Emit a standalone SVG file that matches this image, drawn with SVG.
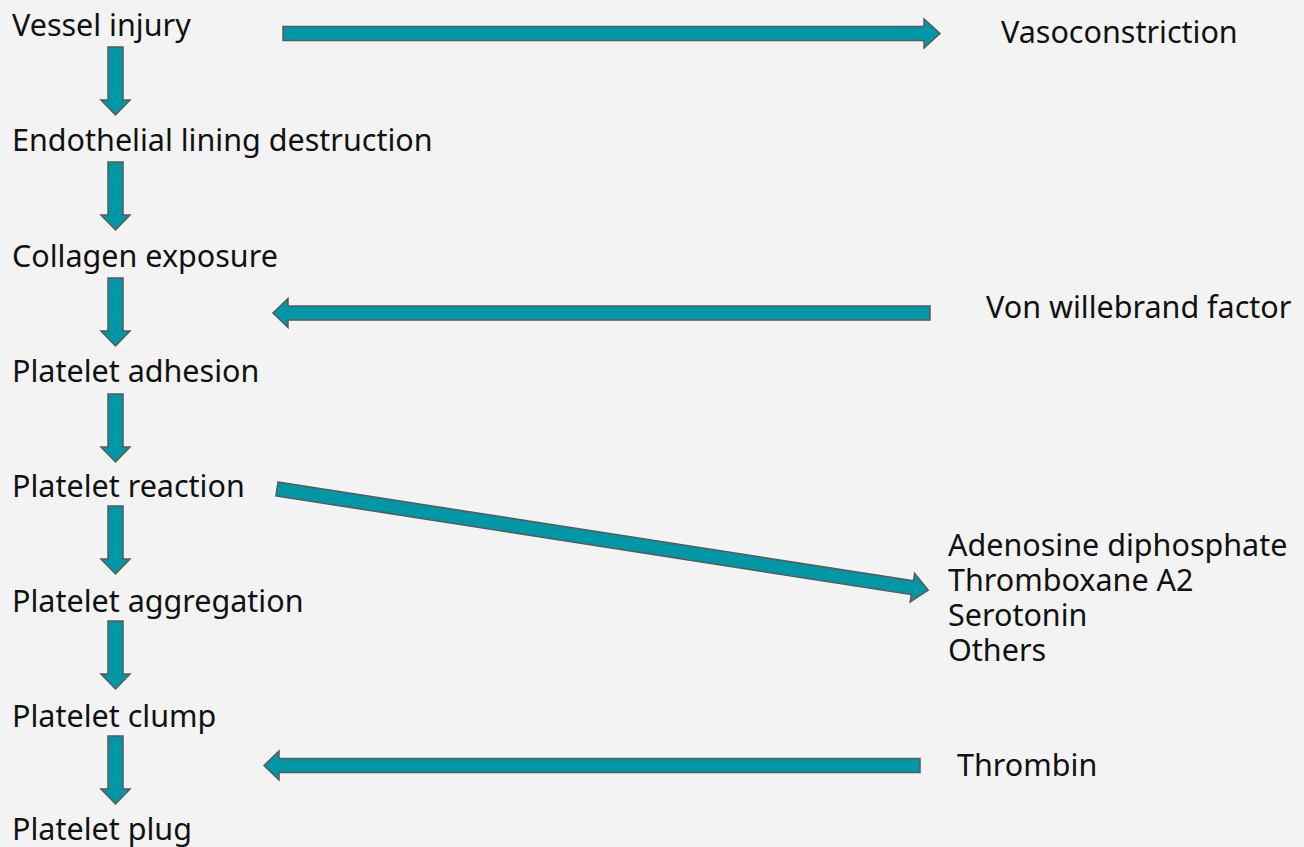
<svg xmlns="http://www.w3.org/2000/svg" width="1304" height="847" viewBox="0 0 1304 847">
  <style>
    .lbl { font-family: "Noto Sans", "Liberation Sans", sans-serif; font-size: 30.5px; fill: #111111; }
    .arr { fill: #0097A7; stroke: #595959; stroke-width: 1.5; stroke-linejoin: miter; }
  </style>
  <defs>
    <!-- short downward block arrow, origin at top-centre of shaft -->
    <path id="down" d="M -7.5 0 H 7.5 V 53 H 14.5 L 0 68 L -14.5 53 H -7.5 Z"/>
  </defs>
  <rect width="1304" height="847" fill="#F3F3F3"/>

  <g id="connectors">
    <use href="#down" class="arr" x="115.5" y="47"/>
    <use href="#down" class="arr" x="115.5" y="162"/>
    <use href="#down" class="arr" x="115.5" y="278"/>
    <use href="#down" class="arr" x="115.5" y="394"/>
    <use href="#down" class="arr" x="115.5" y="506"/>
    <use href="#down" class="arr" x="115.5" y="621"/>
    <use href="#down" class="arr" x="115.5" y="736"/>
    <!-- vessel injury -> vasoconstriction -->
    <path class="arr" d="M 283 26.5 H 924 V 19 L 940 33.5 L 924 48 V 40.5 H 283 Z"/>
    <!-- von willebrand factor -> collagen exposure -->
    <path class="arr" d="M 930 306 H 288 V 298.5 L 273 313 L 288 327.5 V 320 H 930 Z"/>
    <!-- platelet reaction -> mediators -->
    <g transform="translate(277 489) rotate(8.83)">
      <path class="arr" d="M 0 -7 H 643 V -14.5 L 659 0 L 643 14.5 V 7 H 0 Z"/>
    </g>
    <!-- thrombin -> platelet clump -->
    <path class="arr" d="M 920 758.5 H 279 V 751 L 264 765.5 L 279 780 V 772.5 H 920 Z"/>
  </g>

  <g id="n-vessel-injury"><text class="lbl" x="12" y="36">Vessel injury</text></g>
  <g id="n-endothelial"><text class="lbl" x="12" y="151">Endothelial lining destruction</text></g>
  <g id="n-collagen"><text class="lbl" x="12" y="267">Collagen exposure</text></g>
  <g id="n-adhesion"><text class="lbl" x="12" y="382">Platelet adhesion</text></g>
  <g id="n-reaction"><text class="lbl" x="12" y="497">Platelet reaction</text></g>
  <g id="n-aggregation"><text class="lbl" x="12" y="612">Platelet aggregation</text></g>
  <g id="n-clump"><text class="lbl" x="12" y="727">Platelet clump</text></g>
  <g id="n-plug"><text class="lbl" x="12" y="840">Platelet plug</text></g>

  <g id="n-vasoconstriction"><text class="lbl" x="1001" y="43">Vasoconstriction</text></g>
  <g id="n-vwf"><text class="lbl" x="986" y="318">Von willebrand factor</text></g>
  <g id="n-mediators">
    <text class="lbl" x="948" y="556">Adenosine diphosphate</text>
    <text class="lbl" x="948" y="591">Thromboxane A2</text>
    <text class="lbl" x="948" y="626">Serotonin</text>
    <text class="lbl" x="948" y="661">Others</text>
  </g>
  <g id="n-thrombin"><text class="lbl" x="957" y="776">Thrombin</text></g>
</svg>
